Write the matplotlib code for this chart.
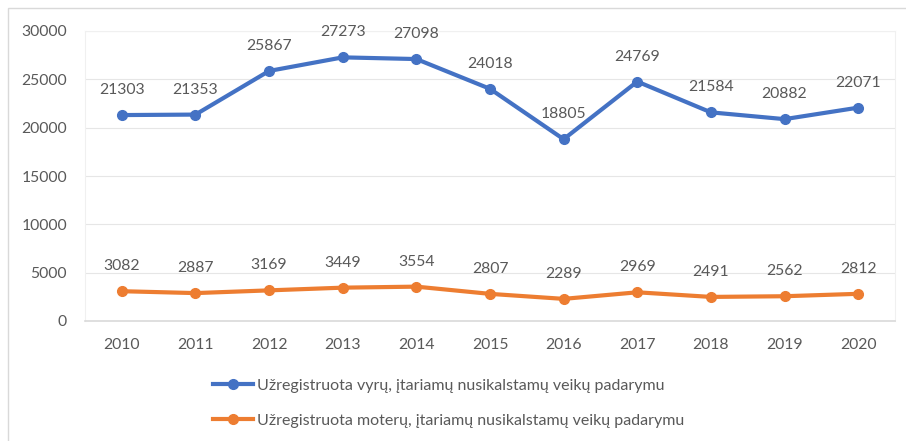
import matplotlib
matplotlib.use('Agg')
import matplotlib.pyplot as plt
from matplotlib.patches import Rectangle

years = ['2010', '2011', '2012', '2013', '2014', '2015', '2016', '2017', '2018', '2019', '2020']
men = [21303, 21353, 25867, 27273, 27098, 24018, 18805, 24769, 21584, 20882, 22071]
women = [3082, 2887, 3169, 3449, 3554, 2807, 2289, 2969, 2491, 2562, 2812]
labels = ['Užregistruota vyrų, įtariamų nusikalstamų veikų padarymu',
          'Užregistruota moterų, įtariamų nusikalstamų veikų padarymu']

plt.rcParams['font.family'] = ['Lato', 'DejaVu Sans']
txt = '#595959'

fig = plt.figure(figsize=(9.06, 4.41), dpi=100)
# outer chart border (cut off on right/bottom like the screenshot)
fig.patches.append(Rectangle((8 / 906, -0.1), 1.1, 1 - 8 / 441 + 0.1, transform=fig.transFigure,
                             fill=False, edgecolor='#D9D9D9', lw=1))

ax = fig.add_axes([85 / 906, 1 - 321 / 441, 810 / 906, 290 / 441])
x = range(len(years))
ax.plot(x, men, color='#4472C4', lw=3, marker='o', ms=7, label=labels[0], zorder=3)
ax.plot(x, women, color='#ED7D31', lw=3, marker='o', ms=7, label=labels[1], zorder=3)

for i, v in enumerate(men):
    ax.annotate(str(v), (i, v), xytext=(0, 18), textcoords='offset points',
                ha='center', va='center', fontsize=11.3, color=txt)
for i, v in enumerate(women):
    ax.annotate(str(v), (i, v), xytext=(0, 18), textcoords='offset points',
                ha='center', va='center', fontsize=11.3, color=txt)

ax.set_xlim(-0.5, len(years) - 0.5)
ax.set_ylim(0, 30000)
ax.set_yticks(range(0, 30001, 5000))
ax.set_xticks(list(x))
ax.set_xticklabels(years)
ax.tick_params(axis='both', length=0, labelsize=11.3, labelcolor=txt)
ax.tick_params(axis='y', pad=13)
ax.tick_params(axis='x', pad=12)
ax.grid(axis='y', color='#E6E6E6', lw=0.8)
ax.set_axisbelow(True)
for s in ['left', 'right', 'top']:
    ax.spines[s].set_color('#F0F0F0')
    ax.spines[s].set_linewidth(0.8)
ax.spines['bottom'].set_color('#D9D9D9')
ax.spines['bottom'].set_linewidth(1.2)

leg = fig.legend(loc='upper left', bbox_to_anchor=(207 / 906, 1 - 372 / 441), frameon=False,
                 fontsize=11.5, handlelength=2.5, handletextpad=0.2, labelspacing=1.3,
                 borderaxespad=0)
for t in leg.get_texts():
    t.set_color(txt)

fig.savefig('out.png', dpi=100)
